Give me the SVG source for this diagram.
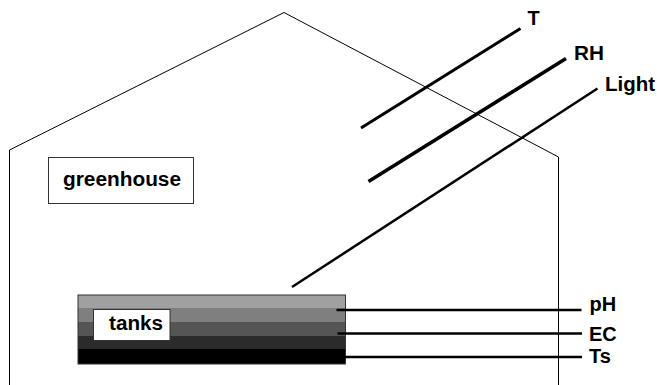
<svg xmlns="http://www.w3.org/2000/svg" width="657" height="385" viewBox="0 0 657 385">
<style>
text{font-family:"Liberation Sans",Arial,sans-serif;font-weight:bold;font-size:20px;fill:#000}
.thin{fill:none;stroke:#000;stroke-width:1}
.box{fill:#fff;stroke:#333;stroke-width:1}
.sensor{stroke:#000;stroke-linecap:butt}
</style>
<rect width="657" height="385" fill="#fff"/>
<g id="house">
<polyline class="thin" points="9.5,385 9.5,150 284,12.5 558.5,157 558.5,385"/>
</g>
<g id="greenhouse">
<rect class="box" x="48.5" y="157.5" width="145" height="46"/>
<text x="63" y="185.5" textLength="118" lengthAdjust="spacingAndGlyphs">greenhouse</text>
</g>
<g id="tanks-body">
<rect x="78" y="295" width="267.5" height="13" fill="#a0a0a0"/>
<rect x="78" y="308" width="267.5" height="14" fill="#7f7f7f"/>
<rect x="78" y="322" width="267.5" height="14" fill="#555"/>
<rect x="78" y="336" width="267.5" height="13" fill="#2b2b2b"/>
<rect x="78" y="349" width="267.5" height="15" fill="#000"/>
<rect x="78" y="295" width="267.5" height="69" fill="none" stroke="#333" stroke-width="1"/>
</g>
<g id="tanks">
<rect class="box" x="93.5" y="309.5" width="76.5" height="31"/>
<text x="109" y="329.5" textLength="54" lengthAdjust="spacingAndGlyphs">tanks</text>
</g>
<g id="connectors">
<line class="sensor" x1="361" y1="128" x2="520.5" y2="28.5" stroke-width="3"/>
<line class="sensor" x1="368.5" y1="181.5" x2="566" y2="58.5" stroke-width="3.5"/>
<line class="sensor" x1="292" y1="287" x2="597.5" y2="88.5" stroke-width="2.5"/>
<line class="sensor" x1="336.5" y1="310" x2="581.5" y2="310" stroke-width="2.5"/>
<line class="sensor" x1="337.5" y1="333.5" x2="582" y2="333.5" stroke-width="2.5"/>
<line class="sensor" x1="345" y1="357" x2="582" y2="357" stroke-width="2.5"/>
</g>
<g id="labels">
<text x="527.5" y="25">T</text>
<text x="574" y="60" textLength="30" lengthAdjust="spacingAndGlyphs">RH</text>
<text x="605" y="90.5" textLength="50" lengthAdjust="spacingAndGlyphs">Light</text>
<text x="589.5" y="310.5">pH</text>
<text x="589" y="341">EC</text>
<text x="589" y="363">Ts</text>
</g>
</svg>
